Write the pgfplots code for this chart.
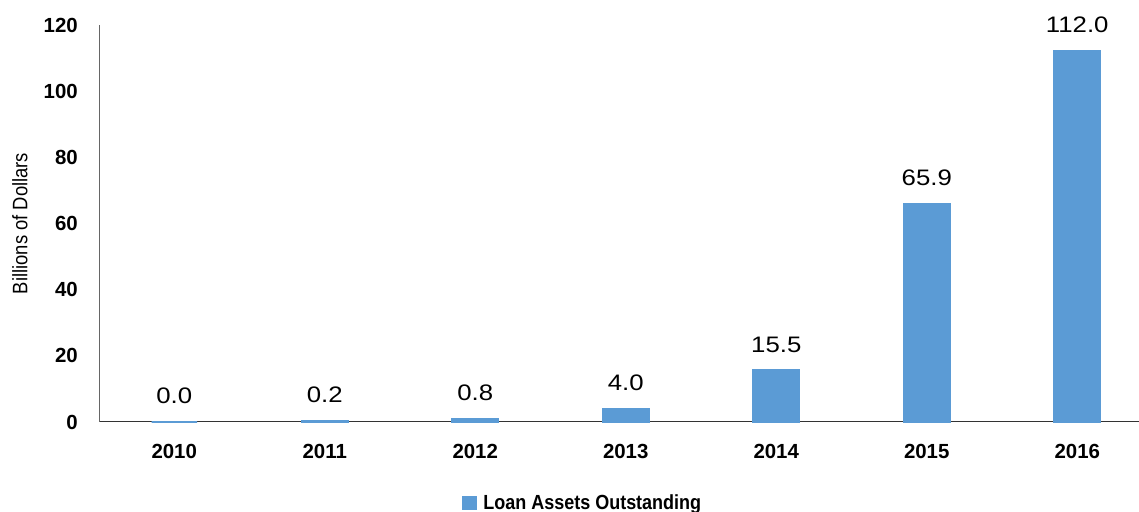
\documentclass[border=0pt]{standalone}
\usepackage{fontspec}
\setmainfont{Liberation Sans}
\newfontfamily\valfont[FakeStretch=1.15]{Liberation Sans}
\newfontfamily\condfont[FakeStretch=0.88]{Liberation Sans}
\usepackage{pgfplots}
\pgfplotsset{compat=1.18}
\definecolor{barblue}{HTML}{5B9BD5}
\begin{document}
\begin{tikzpicture}[x=1bp,y=1bp]
\begin{axis}[
  at={(99bp,90bp)}, anchor=south west,
  scale only axis, width=1053.5bp, height=397bp,
  xmin=-0.5, xmax=6.5, ymin=0, ymax=120,
  clip=false,
  axis lines*=left,
  axis line style={black!80, line width=1bp},
  y axis line style={black!60, line width=0.8bp},
  ytick={0,20,...,120},
  xtick={0,...,6},
  xticklabels={2010,2011,2012,2013,2014,2015,2016},
  major tick length=0pt,
  /pgf/number format/assume math mode=true,
  tick label style={font=\fontsize{20.5}{24}\selectfont\bfseries, inner sep=0pt},
  yticklabel style={anchor=east, xshift=-21bp},
  xticklabel style={anchor=north, yshift=-22bp},
  ylabel={Billions of Dollars},
  ylabel style={at={(axis description cs:-0.0751,0.5)}, anchor=center, font=\condfont\fontsize{21}{25}\selectfont},
  ybar, bar width=45.5bp,
  nodes near coords={\pgfmathprintnumber[fixed,fixed zerofill,precision=1]{\pgfplotspointmeta}},
  every node near coord/.append style={font=\valfont\fontsize{22.5}{26}\selectfont, anchor=south, inner sep=0pt, yshift=17bp, black},
  legend style={at={(0.459,-0.204)}, anchor=center, draw=none, inner sep=0pt,
    font=\condfont\bfseries\fontsize{20.5}{24}\selectfont, legend cell align=left,
    /tikz/every odd column/.append style={column sep=4bp}},
  legend image code/.code={\fill[barblue] (0bp,-6bp) rectangle (13bp,6bp);},
]
\addplot[fill=barblue, draw=barblue, line width=2.5bp] coordinates {
  (0,0.0) (1,0.2) (2,0.8) (3,4.0) (4,15.5) (5,65.9) (6,112.0)
};
\addlegendentry{Loan Assets Outstanding}
\end{axis}
\pgfresetboundingbox
\path[use as bounding box] (0,0) rectangle (1139,512);
\end{tikzpicture}
\end{document}
